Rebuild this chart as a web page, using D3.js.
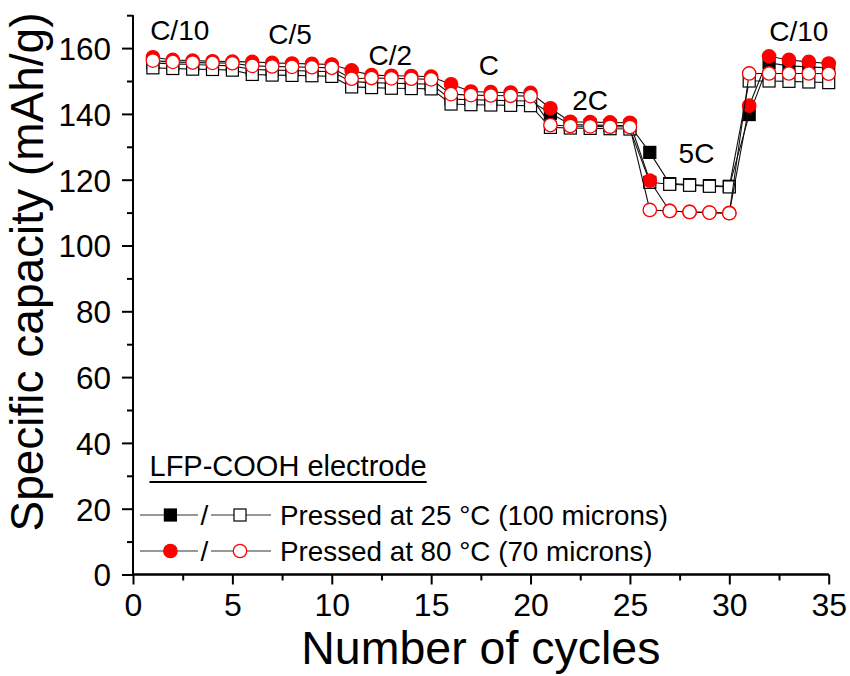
<!DOCTYPE html>
<html>
<head>
<meta charset="utf-8">
<script src="https://cdn.jsdelivr.net/npm/d3@7/dist/d3.min.js"></script>
<style>
  body { margin: 0; background: #fff; }
  text { font-family: "Liberation Sans", Arial, sans-serif; fill: #000; }
</style>
</head>
<body>
<svg id="chart"></svg>
<script>
// cycle numbers
var cycles = d3.range(1, 36);

// pressed at 25 C, filled / open squares
var sq25Filled = [155.5,155.2,155,154.8,154.6, 153.5,153.3,153.2,153,152.8,
                  149.8,149.5,149.3,149.2,149, 144.5,144.3,144.2,144,143.9,
                  140.2,136.8,136.6,136.5,136.4, 128.3,118.8,118.5,118.2,118,
                  139.8,155.5,154.6,154.3,154];
var sq25Open =   [154,153.8,153.6,153.5,153.3, 152,151.8,151.7,151.6,151.4,
                  148.2,148,147.8,147.7,147.6, 143,142.8,142.7,142.6,142.5,
                  135.9,135.7,135.6,135.5,135.4, 119.2,118.6,118.3,118,117.8,
                  150,150,149.9,149.7,149.5];
// pressed at 80 C, filled / open circles
var ci80Filled = [157.2,156.4,156.2,156,155.9, 155.8,155.5,155.3,155.2,155,
                  153.2,151.8,151.6,151.5,151.3, 149,146.8,146.6,146.5,146.4,
                  141.7,137.6,137.5,137.4,137.3, 119.7,110.5,110.2,110,109.9,
                  142.5,157.5,156.4,155.8,155.3];
var ci80Open =   [156.2,155.8,155.6,155.5,155.4, 154.6,154.4,154.3,154.2,154,
                  150.7,150.9,150.8,150.7,150.5, 146,145.7,145.6,145.5,145.4,
                  136.6,136.3,136.2,136.1,136, 110.8,110.5,110.2,110,109.8,
                  152.3,152.3,152.3,152.3,152.2];

// rate labels: text, cycle, capacity
var rateText = ["C/10", "C/5", "C/2", "C", "2C", "5C", "C/10"];
var rateX =    [2.35, 7.9, 12.95, 17.9, 23.0, 28.35, 33.5];
var rateY =    [162.5, 161.2, 154.9, 151.8, 141.2, 125.1, 162.2];

var xTicks = [0, 5, 10, 15, 20, 25, 30, 35];
var yTicks = [0, 20, 40, 60, 80, 100, 120, 140, 160];

var legendLabels = ["Pressed at 25 \u00B0C (100 microns)", "Pressed at 80 \u00B0C (70 microns)"];

var width = 850, height = 676;
var svg = d3.select("#chart").attr("width", width).attr("height", height);

var x = d3.scaleLinear().domain([0, 35]).range([133, 828.7]);
var y = d3.scaleLinear().domain([0, 170]).range([574.5, 15.2]);

// axes
var xAxis = svg.append("g").attr("transform", "translate(0," + y(0) + ")");
xAxis.call(d3.axisBottom(x).tickValues(d3.range(2.5, 35, 5)).tickSize(6).tickFormat(""));
xAxis.call(function(g) {
  g.append("g").call(d3.axisBottom(x).tickValues(xTicks).tickSize(10).tickPadding(8));
});
xAxis.selectAll("path.domain").attr("stroke-width", 2).attr("d", "M" + x(0) + ",0H" + x(35));
xAxis.selectAll("line").attr("stroke-width", 2);
xAxis.selectAll("text").attr("font-size", "32px").attr("dy", "0.72em");

var yAxis = svg.append("g").attr("transform", "translate(" + x(0) + ",0)");
yAxis.call(d3.axisLeft(y).tickValues(d3.range(10, 171, 20)).tickSize(6).tickFormat(""));
yAxis.call(function(g) {
  g.append("g").call(d3.axisLeft(y).tickValues(yTicks).tickSize(11).tickPadding(11));
});
yAxis.selectAll("path.domain").attr("stroke-width", 2).attr("d", "M0," + y(0) + "V" + y(170));
yAxis.selectAll("line").attr("stroke-width", 2);
yAxis.selectAll("text").attr("font-size", "31.5px").attr("dy", "0.36em");

// axis titles
svg.append("text")
  .attr("x", (x(0) + x(35)) / 2).attr("y", 664)
  .attr("text-anchor", "middle").attr("font-size", "46.5px")
  .text("Number of cycles");

svg.append("text")
  .attr("transform", "translate(43,272) rotate(-90)")
  .attr("text-anchor", "middle").attr("font-size", "46px")
  .text("Specific capacity (mAh/g)");

// series
var series = [
  { values: sq25Filled, shape: "square", fill: "#000", stroke: "#000" },
  { values: sq25Open,   shape: "square", fill: "#fff", stroke: "#000" },
  { values: ci80Filled, shape: "circle", fill: "#ff0000", stroke: "#ff0000" },
  { values: ci80Open,   shape: "circle", fill: "#fff", stroke: "#ff0000" }
];

var line = d3.line()
  .x(function(d, i) { return x(cycles[i]); })
  .y(function(d) { return y(d); });

function drawMarker(g, shape, fill, stroke, cx, cy) {
  if (shape === "square") {
    g.append("rect")
      .attr("x", cx - 6).attr("y", cy - 6)
      .attr("width", 12).attr("height", 12)
      .attr("fill", fill).attr("stroke", stroke).attr("stroke-width", 1.2);
  } else {
    g.append("circle")
      .attr("cx", cx).attr("cy", cy).attr("r", 6.7)
      .attr("fill", fill).attr("stroke", stroke).attr("stroke-width", 1.3);
  }
}

var plot = svg.append("g");
series.forEach(function(s) {
  var g = plot.append("g");
  g.append("path")
    .attr("d", line(s.values))
    .attr("fill", "none").attr("stroke", "#111").attr("stroke-width", 1.1);
  s.values.forEach(function(v, i) {
    drawMarker(g, s.shape, s.fill, s.stroke, x(cycles[i]), y(v));
  });
});

// rate labels
svg.append("g").selectAll("text")
  .data(rateText)
  .join("text")
  .attr("x", function(d, i) { return x(rateX[i]); })
  .attr("y", function(d, i) { return y(rateY[i]); })
  .attr("text-anchor", "middle")
  .attr("font-size", "28px")
  .text(function(d) { return d; });

// legend
var legend = svg.append("g");
var title = legend.append("text")
  .attr("x", 149.5).attr("y", 475.5)
  .attr("font-size", "29px")
  .text("LFP-COOH electrode");
var tw = title.node().getComputedTextLength();
legend.append("line")
  .attr("x1", 149.5).attr("x2", 149.5 + tw)
  .attr("y1", 482).attr("y2", 482)
  .attr("stroke", "#000").attr("stroke-width", 2);

var rowY = [515, 551];
[[series[0], series[1]], [series[2], series[3]]].forEach(function(pair, r) {
  var yy = rowY[r];
  legend.append("line")
    .attr("x1", 140).attr("x2", 198).attr("y1", yy).attr("y2", yy)
    .attr("stroke", "#333").attr("stroke-width", 1.2);
  legend.append("line")
    .attr("x1", 211).attr("x2", 271).attr("y1", yy).attr("y2", yy)
    .attr("stroke", "#333").attr("stroke-width", 1.2);
  drawMarker(legend, pair[0].shape, pair[0].fill, pair[0].stroke, 170.4, yy);
  drawMarker(legend, pair[1].shape, pair[1].fill, pair[1].stroke, 240, yy);
  legend.append("text")
    .attr("x", 204.5).attr("y", yy + 10)
    .attr("text-anchor", "middle").attr("font-size", "28px")
    .text("/");
  legend.append("text")
    .attr("x", 280).attr("y", yy + 10)
    .attr("font-size", "27.8px")
    .text(legendLabels[r]);
});
</script>
</body>
</html>
